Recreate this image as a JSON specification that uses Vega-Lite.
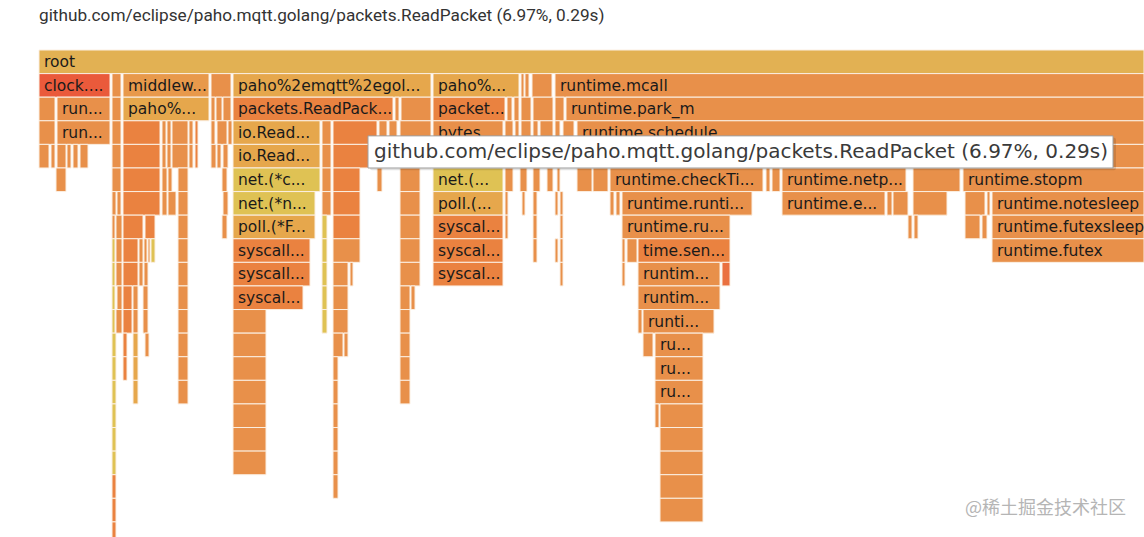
{
  "$schema": "https://vega.github.io/schema/vega-lite/v6.json",
  "autosize": {"type": "none"},
  "width": 1105,
  "height": 487,
  "padding": {"left": 39, "top": 50, "right": 0, "bottom": 0},
  "background": "white",
  "config": {"view": {"stroke": null}},
  "title": {"text": "github.com/eclipse/paho.mqtt.golang/packets.ReadPacket (6.97%, 0.29s)", "anchor": "start", "frame": "group", "font": "Roboto", "fontSize": 17.2, "fontWeight": "normal", "color": "#333333", "offset": 25},
  "datasets": {
    "boxes": [
      {"s":39,"e":1144,"d":0,"n":"root","c":"R"},
      {"s":39,"e":110,"d":1,"n":"clock....","c":"H"},
      {"s":112,"e":121,"d":1,"n":"","c":"O"},
      {"s":123,"e":209,"d":1,"n":"middlew...","c":"L"},
      {"s":211,"e":231,"d":1,"n":"","c":"O"},
      {"s":233,"e":431,"d":1,"n":"paho%2emqtt%2egol...","c":"G"},
      {"s":433,"e":519,"d":1,"n":"paho%...","c":"G"},
      {"s":521,"e":524,"d":1,"n":"","c":"O"},
      {"s":525,"e":529,"d":1,"n":"","c":"O"},
      {"s":532,"e":552,"d":1,"n":"","c":"O"},
      {"s":555,"e":1144,"d":1,"n":"runtime.mcall","c":"O"},

      {"s":39,"e":55,"d":2,"n":"","c":"O"},
      {"s":57,"e":110,"d":2,"n":"run...","c":"O"},
      {"s":112,"e":121,"d":2,"n":"","c":"O"},
      {"s":123,"e":209,"d":2,"n":"paho%...","c":"G"},
      {"s":211,"e":215,"d":2,"n":"","c":"O"},
      {"s":216,"e":222,"d":2,"n":"","c":"O"},
      {"s":223,"e":231,"d":2,"n":"","c":"O"},
      {"s":233,"e":393,"d":2,"n":"packets.ReadPack...","c":"D"},
      {"s":395,"e":399,"d":2,"n":"","c":"O"},
      {"s":401,"e":431,"d":2,"n":"","c":"O"},
      {"s":433,"e":505,"d":2,"n":"packet...","c":"D"},
      {"s":507,"e":512,"d":2,"n":"","c":"O"},
      {"s":514,"e":519,"d":2,"n":"","c":"O"},
      {"s":521,"e":531,"d":2,"n":"","c":"O"},
      {"s":533,"e":553,"d":2,"n":"","c":"O"},
      {"s":555,"e":564,"d":2,"n":"","c":"O"},
      {"s":566,"e":1144,"d":2,"n":"runtime.park_m","c":"O"},

      {"s":39,"e":55,"d":3,"n":"","c":"O"},
      {"s":57,"e":110,"d":3,"n":"run...","c":"O"},
      {"s":112,"e":121,"d":3,"n":"","c":"O"},
      {"s":123,"e":160,"d":3,"n":"","c":"D"},
      {"s":162,"e":166,"d":3,"n":"","c":"O"},
      {"s":167,"e":171,"d":3,"n":"","c":"O"},
      {"s":172,"e":188,"d":3,"n":"","c":"O"},
      {"s":189,"e":193,"d":3,"n":"","c":"O"},
      {"s":195,"e":198,"d":3,"n":"","c":"D"},
      {"s":211,"e":215,"d":3,"n":"","c":"O"},
      {"s":217,"e":227,"d":3,"n":"","c":"O"},
      {"s":228,"e":232,"d":3,"n":"","c":"O"},
      {"s":233,"e":320,"d":3,"n":"io.Read...","c":"G"},
      {"s":322,"e":331,"d":3,"n":"","c":"O"},
      {"s":333,"e":377,"d":3,"n":"","c":"D"},
      {"s":379,"e":387,"d":3,"n":"","c":"O"},
      {"s":389,"e":397,"d":3,"n":"","c":"O"},
      {"s":400,"e":431,"d":3,"n":"","c":"O"},
      {"s":433,"e":503,"d":3,"n":"bytes...","c":"O"},
      {"s":505,"e":513,"d":3,"n":"","c":"O"},
      {"s":515,"e":519,"d":3,"n":"","c":"O"},
      {"s":521,"e":531,"d":3,"n":"","c":"O"},
      {"s":533,"e":538,"d":3,"n":"","c":"O"},
      {"s":540,"e":553,"d":3,"n":"","c":"O"},
      {"s":555,"e":560,"d":3,"n":"","c":"O"},
      {"s":563,"e":574,"d":3,"n":"","c":"O"},
      {"s":577,"e":1144,"d":3,"n":"runtime.schedule","c":"O"},

      {"s":39,"e":49,"d":4,"n":"","c":"O"},
      {"s":51,"e":55,"d":4,"n":"","c":"O"},
      {"s":57,"e":66,"d":4,"n":"","c":"O"},
      {"s":67,"e":71,"d":4,"n":"","c":"O"},
      {"s":73,"e":78,"d":4,"n":"","c":"O"},
      {"s":80,"e":88,"d":4,"n":"","c":"O"},
      {"s":112,"e":121,"d":4,"n":"","c":"O"},
      {"s":123,"e":160,"d":4,"n":"","c":"D"},
      {"s":162,"e":166,"d":4,"n":"","c":"O"},
      {"s":167,"e":171,"d":4,"n":"","c":"O"},
      {"s":172,"e":188,"d":4,"n":"","c":"O"},
      {"s":189,"e":193,"d":4,"n":"","c":"O"},
      {"s":195,"e":198,"d":4,"n":"","c":"D"},
      {"s":211,"e":216,"d":4,"n":"","c":"O"},
      {"s":217,"e":221,"d":4,"n":"","c":"O"},
      {"s":223,"e":228,"d":4,"n":"","c":"O"},
      {"s":233,"e":320,"d":4,"n":"io.Read...","c":"G"},
      {"s":322,"e":331,"d":4,"n":"","c":"O"},
      {"s":333,"e":377,"d":4,"n":"","c":"D"},
      {"s":400,"e":431,"d":4,"n":"","c":"O"},
      {"s":433,"e":503,"d":4,"n":"","c":"G"},
      {"s":577,"e":1144,"d":4,"n":"","c":"O"},

      {"s":56,"e":66,"d":5,"n":"","c":"O"},
      {"s":112,"e":121,"d":5,"n":"","c":"O"},
      {"s":123,"e":160,"d":5,"n":"","c":"D"},
      {"s":162,"e":167,"d":5,"n":"","c":"O"},
      {"s":168,"e":172,"d":5,"n":"","c":"O"},
      {"s":178,"e":188,"d":5,"n":"","c":"O"},
      {"s":222,"e":227,"d":5,"n":"","c":"O"},
      {"s":233,"e":320,"d":5,"n":"net.(*c...","c":"Y"},
      {"s":322,"e":331,"d":5,"n":"","c":"O"},
      {"s":333,"e":360,"d":5,"n":"","c":"D"},
      {"s":377,"e":382,"d":5,"n":"","c":"O"},
      {"s":400,"e":420,"d":5,"n":"","c":"O"},
      {"s":433,"e":503,"d":5,"n":"net.(...","c":"Y"},
      {"s":505,"e":513,"d":5,"n":"","c":"O"},
      {"s":520,"e":527,"d":5,"n":"","c":"O"},
      {"s":533,"e":540,"d":5,"n":"","c":"O"},
      {"s":547,"e":553,"d":5,"n":"","c":"O"},
      {"s":557,"e":560,"d":5,"n":"","c":"O"},
      {"s":577,"e":592,"d":5,"n":"","c":"O"},
      {"s":593,"e":608,"d":5,"n":"","c":"O"},
      {"s":610,"e":763,"d":5,"n":"runtime.checkTi...","c":"O"},
      {"s":766,"e":770,"d":5,"n":"","c":"O"},
      {"s":772,"e":780,"d":5,"n":"","c":"O"},
      {"s":782,"e":906,"d":5,"n":"runtime.netp...","c":"O"},
      {"s":913,"e":960,"d":5,"n":"","c":"O"},
      {"s":963,"e":1144,"d":5,"n":"runtime.stopm","c":"O"},

      {"s":112,"e":116,"d":6,"n":"","c":"O"},
      {"s":117,"e":121,"d":6,"n":"","c":"O"},
      {"s":123,"e":160,"d":6,"n":"","c":"D"},
      {"s":162,"e":167,"d":6,"n":"","c":"O"},
      {"s":168,"e":176,"d":6,"n":"","c":"O"},
      {"s":178,"e":188,"d":6,"n":"","c":"O"},
      {"s":223,"e":228,"d":6,"n":"","c":"O"},
      {"s":233,"e":315,"d":6,"n":"net.(*n...","c":"Y"},
      {"s":322,"e":331,"d":6,"n":"","c":"O"},
      {"s":333,"e":360,"d":6,"n":"","c":"D"},
      {"s":400,"e":420,"d":6,"n":"","c":"O"},
      {"s":433,"e":503,"d":6,"n":"poll.(...","c":"G"},
      {"s":505,"e":508,"d":6,"n":"","c":"O"},
      {"s":522,"e":525,"d":6,"n":"","c":"O"},
      {"s":533,"e":537,"d":6,"n":"","c":"O"},
      {"s":555,"e":558,"d":6,"n":"","c":"O"},
      {"s":560,"e":563,"d":6,"n":"","c":"O"},
      {"s":610,"e":614,"d":6,"n":"","c":"O"},
      {"s":616,"e":620,"d":6,"n":"","c":"O"},
      {"s":622,"e":752,"d":6,"n":"runtime.runti...","c":"O"},
      {"s":782,"e":885,"d":6,"n":"runtime.e...","c":"O"},
      {"s":887,"e":892,"d":6,"n":"","c":"O"},
      {"s":893,"e":908,"d":6,"n":"","c":"O"},
      {"s":913,"e":947,"d":6,"n":"","c":"O"},
      {"s":965,"e":985,"d":6,"n":"","c":"O"},
      {"s":987,"e":990,"d":6,"n":"","c":"O"},
      {"s":992,"e":1144,"d":6,"n":"runtime.notesleep","c":"O"},

      {"s":112,"e":115,"d":7,"n":"","c":"O"},
      {"s":116,"e":122,"d":7,"n":"","c":"O"},
      {"s":123,"e":143,"d":7,"n":"","c":"D"},
      {"s":145,"e":155,"d":7,"n":"","c":"D"},
      {"s":178,"e":188,"d":7,"n":"","c":"O"},
      {"s":222,"e":227,"d":7,"n":"","c":"O"},
      {"s":233,"e":315,"d":7,"n":"poll.(*F...","c":"G"},
      {"s":322,"e":327,"d":7,"n":"","c":"Y"},
      {"s":333,"e":360,"d":7,"n":"","c":"D"},
      {"s":400,"e":420,"d":7,"n":"","c":"O"},
      {"s":433,"e":503,"d":7,"n":"syscal...","c":"D"},
      {"s":505,"e":508,"d":7,"n":"","c":"O"},
      {"s":533,"e":537,"d":7,"n":"","c":"O"},
      {"s":560,"e":563,"d":7,"n":"","c":"O"},
      {"s":622,"e":730,"d":7,"n":"runtime.ru...","c":"O"},
      {"s":908,"e":912,"d":7,"n":"","c":"O"},
      {"s":914,"e":918,"d":7,"n":"","c":"O"},
      {"s":965,"e":980,"d":7,"n":"","c":"O"},
      {"s":982,"e":987,"d":7,"n":"","c":"O"},
      {"s":992,"e":1144,"d":7,"n":"runtime.futexsleep","c":"O"},

      {"s":112,"e":115,"d":8,"n":"","c":"Y"},
      {"s":116,"e":122,"d":8,"n":"","c":"O"},
      {"s":123,"e":138,"d":8,"n":"","c":"D"},
      {"s":139,"e":143,"d":8,"n":"","c":"O"},
      {"s":144,"e":147,"d":8,"n":"","c":"O"},
      {"s":148,"e":150,"d":8,"n":"","c":"O"},
      {"s":151,"e":155,"d":8,"n":"","c":"Y"},
      {"s":178,"e":188,"d":8,"n":"","c":"O"},
      {"s":233,"e":310,"d":8,"n":"syscall...","c":"D"},
      {"s":322,"e":327,"d":8,"n":"","c":"Y"},
      {"s":333,"e":360,"d":8,"n":"","c":"O"},
      {"s":400,"e":420,"d":8,"n":"","c":"O"},
      {"s":433,"e":503,"d":8,"n":"syscal...","c":"D"},
      {"s":533,"e":537,"d":8,"n":"","c":"O"},
      {"s":555,"e":558,"d":8,"n":"","c":"O"},
      {"s":560,"e":563,"d":8,"n":"","c":"O"},
      {"s":622,"e":625,"d":8,"n":"","c":"O"},
      {"s":627,"e":637,"d":8,"n":"","c":"O"},
      {"s":638,"e":730,"d":8,"n":"time.sen...","c":"D"},
      {"s":992,"e":1144,"d":8,"n":"runtime.futex","c":"O"},

      {"s":112,"e":115,"d":9,"n":"","c":"Y"},
      {"s":116,"e":122,"d":9,"n":"","c":"O"},
      {"s":123,"e":138,"d":9,"n":"","c":"D"},
      {"s":139,"e":143,"d":9,"n":"","c":"O"},
      {"s":144,"e":148,"d":9,"n":"","c":"O"},
      {"s":178,"e":188,"d":9,"n":"","c":"O"},
      {"s":233,"e":310,"d":9,"n":"syscall...","c":"D"},
      {"s":322,"e":327,"d":9,"n":"","c":"Y"},
      {"s":333,"e":348,"d":9,"n":"","c":"O"},
      {"s":350,"e":353,"d":9,"n":"","c":"O"},
      {"s":400,"e":420,"d":9,"n":"","c":"O"},
      {"s":433,"e":503,"d":9,"n":"syscal...","c":"D"},
      {"s":560,"e":563,"d":9,"n":"","c":"O"},
      {"s":622,"e":625,"d":9,"n":"","c":"O"},
      {"s":638,"e":720,"d":9,"n":"runtim...","c":"O"},
      {"s":722,"e":730,"d":9,"n":"","c":"E"},

      {"s":112,"e":115,"d":10,"n":"","c":"Y"},
      {"s":117,"e":122,"d":10,"n":"","c":"O"},
      {"s":123,"e":132,"d":10,"n":"","c":"D"},
      {"s":133,"e":138,"d":10,"n":"","c":"O"},
      {"s":143,"e":148,"d":10,"n":"","c":"O"},
      {"s":178,"e":188,"d":10,"n":"","c":"O"},
      {"s":233,"e":303,"d":10,"n":"syscal...","c":"D"},
      {"s":322,"e":327,"d":10,"n":"","c":"Y"},
      {"s":333,"e":348,"d":10,"n":"","c":"O"},
      {"s":400,"e":410,"d":10,"n":"","c":"O"},
      {"s":411,"e":415,"d":10,"n":"","c":"O"},
      {"s":638,"e":720,"d":10,"n":"runtim...","c":"O"},

      {"s":112,"e":115,"d":11,"n":"","c":"Y"},
      {"s":116,"e":122,"d":11,"n":"","c":"O"},
      {"s":123,"e":132,"d":11,"n":"","c":"D"},
      {"s":133,"e":138,"d":11,"n":"","c":"O"},
      {"s":143,"e":148,"d":11,"n":"","c":"O"},
      {"s":178,"e":188,"d":11,"n":"","c":"O"},
      {"s":233,"e":266,"d":11,"n":"","c":"O"},
      {"s":322,"e":327,"d":11,"n":"","c":"Y"},
      {"s":333,"e":348,"d":11,"n":"","c":"O"},
      {"s":400,"e":410,"d":11,"n":"","c":"O"},
      {"s":638,"e":642,"d":11,"n":"","c":"O"},
      {"s":643,"e":714,"d":11,"n":"runti...","c":"O"},

      {"s":112,"e":116,"d":12,"n":"","c":"Y"},
      {"s":123,"e":127,"d":12,"n":"","c":"D"},
      {"s":133,"e":138,"d":12,"n":"","c":"G"},
      {"s":145,"e":149,"d":12,"n":"","c":"O"},
      {"s":178,"e":188,"d":12,"n":"","c":"O"},
      {"s":233,"e":266,"d":12,"n":"","c":"O"},
      {"s":333,"e":343,"d":12,"n":"","c":"O"},
      {"s":344,"e":348,"d":12,"n":"","c":"O"},
      {"s":400,"e":410,"d":12,"n":"","c":"O"},
      {"s":643,"e":653,"d":12,"n":"","c":"O"},
      {"s":655,"e":703,"d":12,"n":"ru...","c":"O"},

      {"s":112,"e":116,"d":13,"n":"","c":"Y"},
      {"s":123,"e":127,"d":13,"n":"","c":"D"},
      {"s":133,"e":138,"d":13,"n":"","c":"G"},
      {"s":178,"e":188,"d":13,"n":"","c":"O"},
      {"s":233,"e":266,"d":13,"n":"","c":"O"},
      {"s":333,"e":338,"d":13,"n":"","c":"O"},
      {"s":400,"e":410,"d":13,"n":"","c":"O"},
      {"s":655,"e":703,"d":13,"n":"ru...","c":"O"},

      {"s":112,"e":116,"d":14,"n":"","c":"Y"},
      {"s":133,"e":138,"d":14,"n":"","c":"G"},
      {"s":178,"e":188,"d":14,"n":"","c":"O"},
      {"s":233,"e":266,"d":14,"n":"","c":"O"},
      {"s":333,"e":338,"d":14,"n":"","c":"O"},
      {"s":400,"e":410,"d":14,"n":"","c":"O"},
      {"s":655,"e":703,"d":14,"n":"ru...","c":"O"},

      {"s":112,"e":116,"d":15,"n":"","c":"Y"},
      {"s":233,"e":266,"d":15,"n":"","c":"O"},
      {"s":333,"e":338,"d":15,"n":"","c":"O"},
      {"s":655,"e":659,"d":15,"n":"","c":"O"},
      {"s":660,"e":703,"d":15,"n":"","c":"O"},

      {"s":112,"e":116,"d":16,"n":"","c":"Y"},
      {"s":233,"e":266,"d":16,"n":"","c":"O"},
      {"s":333,"e":338,"d":16,"n":"","c":"O"},
      {"s":660,"e":703,"d":16,"n":"","c":"O"},

      {"s":112,"e":116,"d":17,"n":"","c":"Y"},
      {"s":233,"e":266,"d":17,"n":"","c":"O"},
      {"s":333,"e":338,"d":17,"n":"","c":"O"},
      {"s":660,"e":703,"d":17,"n":"","c":"O"},

      {"s":112,"e":116,"d":18,"n":"","c":"D"},
      {"s":333,"e":338,"d":18,"n":"","c":"O"},
      {"s":660,"e":703,"d":18,"n":"","c":"O"},

      {"s":112,"e":116,"d":19,"n":"","c":"D"},
      {"s":660,"e":703,"d":19,"n":"","c":"O"},

      {"s":112,"e":116,"d":20,"n":"","c":"D"}
    ],
    "shadow": [
      {"s":370,"e":1116,"d":3.72,"d1":5.1}
    ],
    "tip": [
      {"s":368,"e":1113,"d":3.64,"d1":5.0,"n":"github.com/eclipse/paho.mqtt.golang/packets.ReadPacket (6.97%, 0.29s)"}
    ],
    "mark": [
      {"s":965,"d":19.45,"n":"@稀土掘金技术社区"}
    ]
  },
  "layer": [
    {
      "data": {"name": "boxes"},
      "transform": [{"calculate": "datum.d + 1", "as": "d1"}],
      "mark": {"type": "rect", "stroke": "#fbefe2", "strokeWidth": 1},
      "encoding": {
        "x": {"field": "s", "type": "quantitative", "scale": {"domain": [39, 1144], "nice": false, "zero": false}, "axis": null},
        "x2": {"field": "e"},
        "y": {"field": "d", "type": "quantitative", "scale": {"domain": [0, 20.64], "nice": false, "zero": false, "reverse": true}, "axis": null},
        "y2": {"field": "d1"},
        "color": {"field": "c", "type": "nominal", "legend": null,
          "scale": {"domain": ["R", "H", "O", "D", "Y", "G", "L", "E"],
                    "range": ["#e2b153", "#ea5a3b", "#e8904a", "#ea8240", "#dfc254", "#e6a74c", "#e8994b", "#ea703f"]}}
      }
    },
    {
      "data": {"name": "boxes"},
      "transform": [{"filter": "datum.n != ''"}],
      "mark": {"type": "text", "align": "left", "baseline": "middle", "dx": 5, "dy": 12, "font": "DejaVu Sans", "fontSize": 15.5, "color": "#1a1a1a"},
      "encoding": {
        "x": {"field": "s", "type": "quantitative", "scale": {"domain": [39, 1144], "nice": false, "zero": false}, "axis": null},
        "y": {"field": "d", "type": "quantitative", "scale": {"domain": [0, 20.64], "nice": false, "zero": false, "reverse": true}, "axis": null},
        "text": {"field": "n"}
      }
    },
    {
      "data": {"name": "shadow"},
      "mark": {"type": "rect", "fill": "#000000", "opacity": 0.12, "cornerRadius": 2},
      "encoding": {
        "x": {"field": "s", "type": "quantitative", "scale": {"domain": [39, 1144], "nice": false, "zero": false}, "axis": null},
        "x2": {"field": "e"},
        "y": {"field": "d", "type": "quantitative", "scale": {"domain": [0, 20.64], "nice": false, "zero": false, "reverse": true}, "axis": null},
        "y2": {"field": "d1"}
      }
    },
    {
      "data": {"name": "tip"},
      "mark": {"type": "rect", "fill": "white", "stroke": "#a0a0a0", "strokeWidth": 1},
      "encoding": {
        "x": {"field": "s", "type": "quantitative", "scale": {"domain": [39, 1144], "nice": false, "zero": false}, "axis": null},
        "x2": {"field": "e"},
        "y": {"field": "d", "type": "quantitative", "scale": {"domain": [0, 20.64], "nice": false, "zero": false, "reverse": true}, "axis": null},
        "y2": {"field": "d1"}
      }
    },
    {
      "data": {"name": "tip"},
      "mark": {"type": "text", "align": "left", "baseline": "middle", "dx": 6, "dy": 16, "font": "DejaVu Sans", "fontSize": 20, "color": "#3a3a3a"},
      "encoding": {
        "x": {"field": "s", "type": "quantitative", "scale": {"domain": [39, 1144], "nice": false, "zero": false}, "axis": null},
        "y": {"field": "d", "type": "quantitative", "scale": {"domain": [0, 20.64], "nice": false, "zero": false, "reverse": true}, "axis": null},
        "text": {"field": "n"}
      }
    },
    {
      "data": {"name": "mark"},
      "mark": {"type": "text", "align": "left", "baseline": "middle", "font": "Noto Sans CJK SC", "fontSize": 18, "color": "#b5b5b5"},
      "encoding": {
        "x": {"field": "s", "type": "quantitative", "scale": {"domain": [39, 1144], "nice": false, "zero": false}, "axis": null},
        "y": {"field": "d", "type": "quantitative", "scale": {"domain": [0, 20.64], "nice": false, "zero": false, "reverse": true}, "axis": null},
        "text": {"field": "n"}
      }
    }
  ]
}
